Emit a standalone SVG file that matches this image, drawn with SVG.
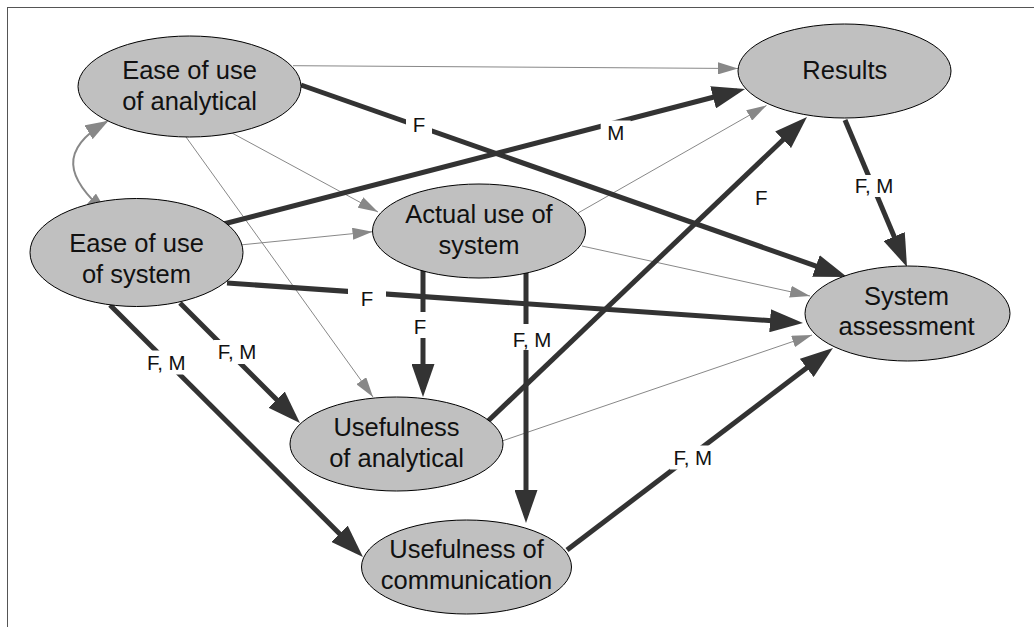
<svg xmlns="http://www.w3.org/2000/svg" width="1034" height="627" viewBox="0 0 1034 627">
<style>
.node ellipse{fill:#c0c0c0;stroke:#000;stroke-width:1}
.node text{font-family:"Liberation Sans",Arial,sans-serif;font-size:25.5px;fill:#111;text-anchor:middle}
.thick{fill:none;stroke:#333;stroke-width:5;marker-end:url(#ah)}
.thin{fill:none;stroke:#888;stroke-width:1;marker-end:url(#at)}
.curve{fill:none;stroke:#888;stroke-width:2;marker-end:url(#ac);marker-start:url(#ac)}
.lbl rect{fill:#fff}
.lbl text{font-family:"Liberation Sans",Arial,sans-serif;font-size:20.5px;fill:#111;text-anchor:middle}
</style>
<defs>
<marker id="ah" markerUnits="userSpaceOnUse" markerWidth="33" markerHeight="23" refX="25" refY="11.5" orient="auto" viewBox="0 0 33 23">
<path d="M0,0 L33,11.5 L0,23 z" fill="#333"/>
</marker>
<marker id="at" markerUnits="userSpaceOnUse" markerWidth="20" markerHeight="12" refX="20" refY="6" orient="auto" viewBox="0 0 20 12">
<path d="M0,0 L20,6 L0,12 z" fill="#888"/>
</marker>
<marker id="ac" markerUnits="userSpaceOnUse" markerWidth="23" markerHeight="16" refX="21" refY="8" orient="auto-start-reverse" viewBox="0 0 23 16">
<path d="M0,0 L23,8 L0,16 z" fill="#888"/>
</marker>
</defs>
<rect x="7.5" y="7.5" width="1100" height="700" fill="#fff" stroke="#555" stroke-width="1"/>
<g id="connectors">
<path class="thin" d="M293,65.7 L738,68.5"/>
<path class="thin" d="M232,133 L378,212"/>
<path class="thin" d="M186,137 L373,397"/>
<path class="thin" d="M240,245 L372.5,231.7"/>
<path class="thin" d="M578,213 L766.5,105.5"/>
<path class="thin" d="M582,246 L810,296"/>
<path class="thin" d="M502,441 L812,335"/>
<path class="curve" d="M106.7,213.3 C64.9,177.5 59.2,149.5 106.7,121.7"/>
<path class="thick" d="M301,85 L839.5,274.3"/>
<path class="thick" d="M208,228 L737.3,91"/>
<path class="thick" d="M227,283 L795,322.4"/>
<path class="thick" d="M180,303 L294.3,417.3"/>
<path class="thick" d="M110,305 L357.3,551.4"/>
<path class="thick" d="M423,269 L423,389"/>
<path class="thick" d="M526,273 L526,515"/>
<path class="thick" d="M487,422 L801.2,122.5"/>
<path class="thick" d="M845,120 L903.9,259.6"/>
<path class="thick" d="M567,550 L826.6,352.8"/>
<g class="lbl">
<rect x="406" y="112.5" width="26" height="24"/><text x="419" y="131.7">F</text>
<rect x="600.7" y="120.5" width="30" height="24"/><text x="615.7" y="140">M</text>
<rect x="348" y="287" width="38" height="24"/><text x="367" y="306">F</text>
<rect x="214" y="340" width="46" height="24"/><text x="237" y="359">F, M</text>
<rect x="143.3" y="350.5" width="46" height="24"/><text x="166.3" y="370">F, M</text>
<rect x="407" y="312" width="26" height="26"/><text x="420" y="334">F</text>
<rect x="509" y="324" width="46" height="26"/><text x="532" y="346.7">F, M</text>
<text x="761.3" y="205">F</text>
<rect x="851" y="175" width="46" height="22"/><text x="874" y="193">F, M</text>
<rect x="669.8" y="445.5" width="46" height="24"/><text x="692.8" y="465">F, M</text>
</g>
</g>
<g id="ease-analytical" class="node"><ellipse cx="189.5" cy="86.5" rx="111.5" ry="50.5"/><text x="189.5" y="78.5">Ease of use</text><text x="189.5" y="110">of analytical</text></g>
<g id="ease-system" class="node"><ellipse cx="136.5" cy="252.5" rx="106.5" ry="54"/><text x="136.5" y="252">Ease of use</text><text x="136.5" y="283">of system</text></g>
<g id="results" class="node"><ellipse cx="844.5" cy="71" rx="106.5" ry="47"/><text x="844.8" y="79.3">Results</text></g>
<g id="actual-use" class="node"><ellipse cx="479" cy="231" rx="106.5" ry="47"/><text x="479" y="222.7">Actual use of</text><text x="479" y="253.5">system</text></g>
<g id="system-assessment" class="node"><ellipse cx="907.5" cy="313.5" rx="102.5" ry="47.5"/><text x="906.5" y="305">System</text><text x="906.5" y="335">assessment</text></g>
<g id="usefulness-analytical" class="node"><ellipse cx="396.5" cy="444" rx="106.5" ry="47"/><text x="396.5" y="435.5">Usefulness</text><text x="396.5" y="466.5">of analytical</text></g>
<g id="usefulness-communication" class="node"><ellipse cx="466.5" cy="567" rx="105" ry="47"/><text x="466.5" y="558">Usefulness of</text><text x="466.5" y="589">communication</text></g>
</svg>
